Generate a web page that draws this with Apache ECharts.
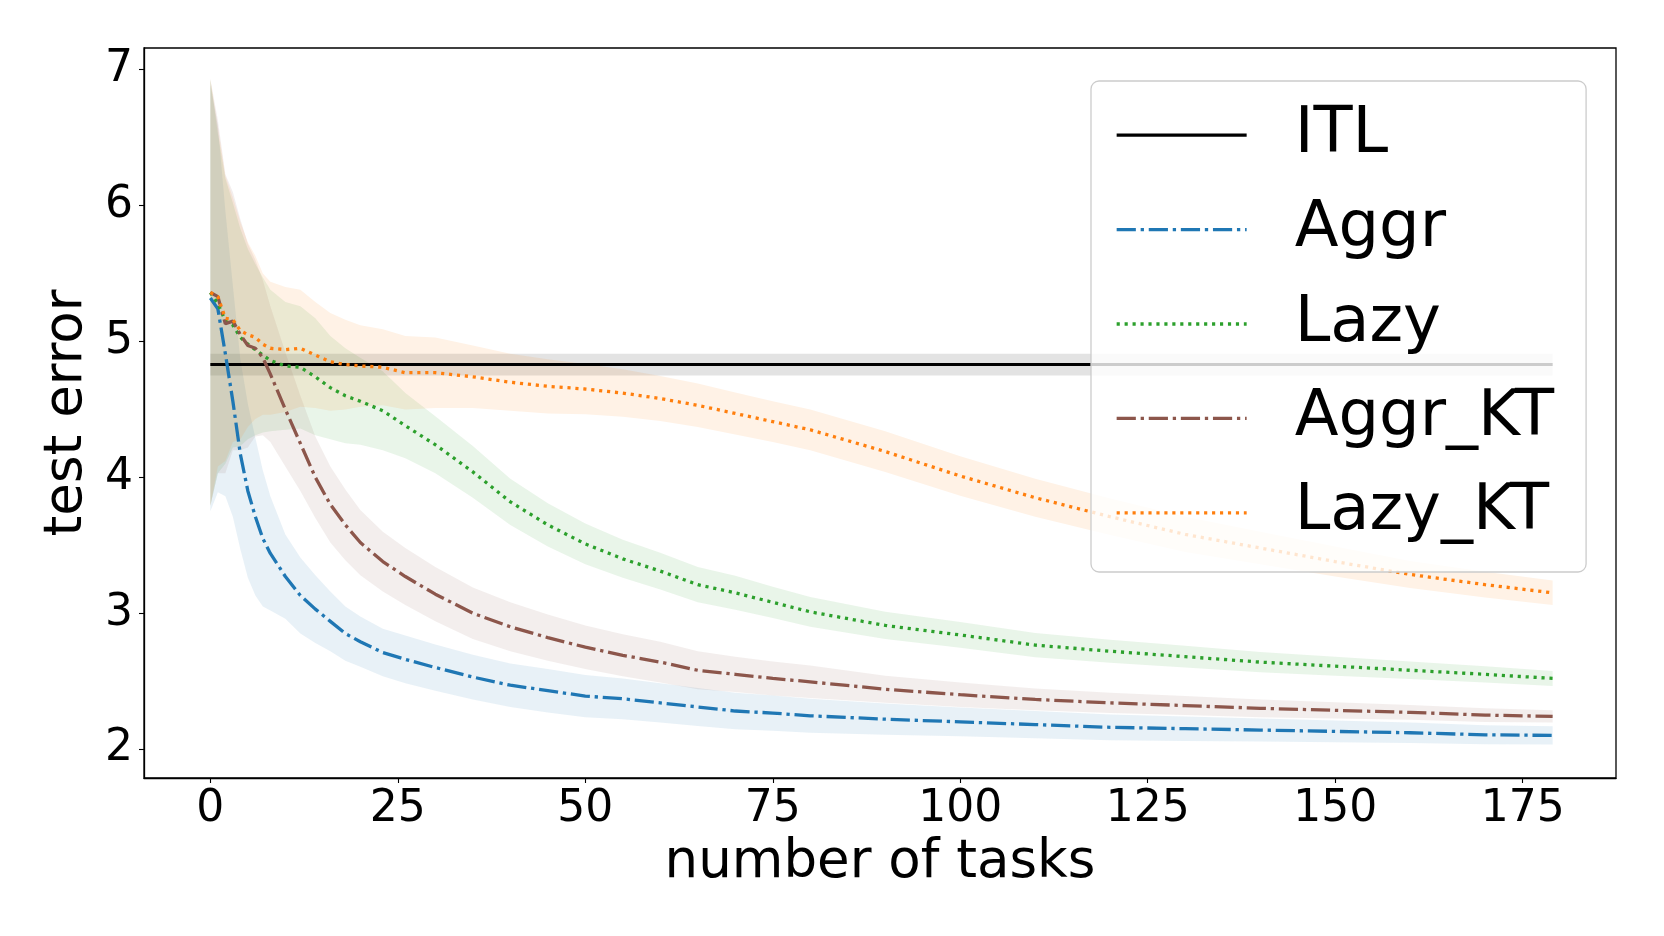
<!DOCTYPE html>
<html>
<head>
<meta charset="utf-8">
<script src="https://cdn.jsdelivr.net/npm/echarts@6/dist/echarts.min.js"></script>
<style>html,body{margin:0;padding:0;background:#fff}#c{width:1664px;height:936px}</style>
</head>
<body>
<div id="c"></div>
<script>
// ---- data ----
const tasks = [0,1,2,3,4,5,6,7,8,10,12,14,16,18,20,23,26,30,35,40,45,50,55,60,65,70,75,80,90,100,110,120,130,140,150,160,170,179];

const itlTasks = [0, 179];
const itlMean = [4.83, 4.83];
const itlSd = [0.08, 0.08];

const aggrMean = [5.32,5.24,4.91,4.56,4.17,3.90,3.71,3.55,3.44,3.27,3.13,3.03,2.94,2.85,2.79,2.71,2.66,2.60,2.53,2.47,2.43,2.39,2.37,2.34,2.31,2.28,2.265,2.245,2.22,2.20,2.18,2.16,2.15,2.14,2.13,2.12,2.105,2.10];
const aggrSd = [1.57,1.35,1.05,0.85,0.70,0.64,0.58,0.50,0.42,0.31,0.28,0.25,0.22,0.20,0.185,0.175,0.175,0.17,0.165,0.16,0.16,0.155,0.15,0.145,0.14,0.135,0.13,0.125,0.115,0.105,0.10,0.095,0.09,0.085,0.08,0.075,0.07,0.067];

const lazyMean = [5.36,5.28,5.15,5.12,5.03,4.98,4.94,4.90,4.86,4.82,4.81,4.74,4.66,4.60,4.56,4.49,4.38,4.24,4.04,3.82,3.65,3.51,3.40,3.31,3.21,3.15,3.08,3.01,2.91,2.84,2.765,2.72,2.68,2.64,2.61,2.58,2.55,2.52];
const lazySd = [1.57,1.25,1.05,0.90,0.80,0.70,0.63,0.57,0.52,0.47,0.45,0.43,0.38,0.35,0.32,0.29,0.24,0.21,0.19,0.17,0.16,0.15,0.14,0.135,0.13,0.125,0.115,0.11,0.10,0.095,0.09,0.085,0.08,0.075,0.07,0.065,0.06,0.055];

const aggrKtMean = [5.36,5.33,5.13,5.15,5.05,4.97,4.95,4.88,4.76,4.50,4.25,4.00,3.80,3.65,3.52,3.38,3.27,3.14,3.00,2.90,2.82,2.75,2.69,2.64,2.58,2.55,2.52,2.495,2.44,2.40,2.365,2.34,2.32,2.30,2.285,2.27,2.25,2.24];
const aggrKtSd = [1.57,1.30,1.10,0.95,0.85,0.75,0.65,0.57,0.50,0.42,0.35,0.30,0.28,0.26,0.24,0.22,0.21,0.20,0.19,0.18,0.17,0.16,0.155,0.15,0.14,0.13,0.125,0.12,0.10,0.09,0.08,0.075,0.07,0.065,0.06,0.055,0.05,0.045];

const lazyKtMean = [5.36,5.33,5.17,5.16,5.08,5.05,5.03,4.98,4.95,4.94,4.95,4.90,4.85,4.83,4.82,4.81,4.77,4.77,4.74,4.70,4.67,4.65,4.62,4.58,4.53,4.47,4.41,4.35,4.19,4.01,3.85,3.71,3.58,3.48,3.38,3.285,3.21,3.15];
const lazyKtSd = [1.57,1.25,1.05,0.90,0.80,0.68,0.60,0.52,0.49,0.46,0.43,0.39,0.36,0.33,0.30,0.28,0.27,0.26,0.23,0.21,0.20,0.185,0.175,0.165,0.16,0.155,0.15,0.15,0.15,0.145,0.14,0.135,0.13,0.12,0.11,0.10,0.095,0.09];

const xTicks = [0,25,50,75,100,125,150,175];
const yTicks = [2,3,4,5,6,7];

const seriesNames = ['ITL','Aggr','Lazy','Aggr_KT','Lazy_KT'];
// ---------------------------------------------

const FONT = 'DejaVu Sans';
const LW = 3.3;
const P = 3.0;
const dashDot = [6.4*P, 1.6*P, 1.1*P, 1.6*P];
const dotted = [1.05*P, 1.6*P];

const defs = [
  {name:'ITL', xs:itlTasks, mean:itlMean, sd:itlSd, color:'#000000', band:'rgba(0,0,0,0.11)', type:'solid', w:2.9},
  {name:'Aggr', xs:tasks, mean:aggrMean, sd:aggrSd, color:'#1f77b4', band:'rgba(31,119,180,0.1)', type:dashDot, w:LW},
  {name:'Lazy', xs:tasks, mean:lazyMean, sd:lazySd, color:'#2ca02c', band:'rgba(44,160,44,0.1)', type:dotted, w:LW},
  {name:'Aggr_KT', xs:tasks, mean:aggrKtMean, sd:aggrKtSd, color:'#8c564b', band:'rgba(140,86,75,0.1)', type:dashDot, w:LW},
  {name:'Lazy_KT', xs:tasks, mean:lazyKtMean, sd:lazyKtSd, color:'#ff7f0e', band:'rgba(255,127,14,0.1)', type:dotted, w:LW}
];

const series = [];
defs.forEach(function(d){
  series.push({
    type:'custom', name:d.name + ' band', silent:true, z:1,
    data:[[d.xs[0], d.mean[0]]],
    encode:{x:0, y:1},
    renderItem:function(params, api){
      const pts = [];
      for (let i = 0; i < d.xs.length; i++) pts.push(api.coord([d.xs[i], d.mean[i] + d.sd[i]]));
      for (let i = d.xs.length - 1; i >= 0; i--) pts.push(api.coord([d.xs[i], d.mean[i] - d.sd[i]]));
      return {type:'polygon', shape:{points:pts}, style:{fill:d.band}};
    }
  });
});
defs.forEach(function(d){
  series.push({
    type:'line', name:d.name, z:3,
    data:d.xs.map(function(x, i){ return [x, d.mean[i]]; }),
    symbol:'none', showSymbol:false,
    itemStyle:{color:d.color},
    lineStyle:{color:d.color, width:d.w, type:d.type, cap:'butt'}
  });
});

const chart = echarts.init(document.getElementById('c'), null, {renderer:'canvas'});
chart.setOption({
  animation:false,
  backgroundColor:'#ffffff',
  grid:{left:144, right:48, top:48, bottom:158, show:true, borderColor:'#000', borderWidth:1.3, backgroundColor:'transparent'},
  xAxis:{
    type:'value', min:-8.85, max:187.45,
    axisLine:{show:true, onZero:false, lineStyle:{color:'#000', width:1.3}},
    splitLine:{show:false},
    axisTick:{show:true, customValues:xTicks, length:5, lineStyle:{color:'#000', width:1.1}},
    axisLabel:{customValues:xTicks, fontSize:44, color:'#000', fontFamily:FONT, margin:10},
    name:'number of tasks', nameLocation:'middle', nameGap:58,
    nameTextStyle:{fontSize:53, color:'#000', fontFamily:FONT}
  },
  yAxis:{
    type:'value', min:1.787, max:7.16,
    axisLine:{show:true, onZero:false, lineStyle:{color:'#000', width:1.3}},
    splitLine:{show:false},
    axisTick:{show:true, customValues:yTicks, length:5, lineStyle:{color:'#000', width:1.1}},
    axisLabel:{customValues:yTicks, fontSize:44, color:'#000', fontFamily:FONT, margin:11, padding:[6,0,0,0]},
    name:'test error', nameLocation:'middle', nameGap:46,
    nameTextStyle:{fontSize:53, color:'#000', fontFamily:FONT}
  },
  legend:{
    data:seriesNames, orient:'vertical', left:1091, top:81,
    padding:[7,32,12,24], itemGap:0, itemWidth:130, itemHeight:1,
    backgroundColor:'rgba(255,255,255,0.8)', borderColor:'#cccccc', borderWidth:1.3, borderRadius:8,
    selectedMode:false,
    itemStyle:{opacity:0},
    lineStyle:{width:LW},
    textStyle:{fontFamily:FONT, fontSize:64, color:'#000', lineHeight:94.4, padding:[0,0,0,43]}
  },
  series:series
});
</script>
</body>
</html>
